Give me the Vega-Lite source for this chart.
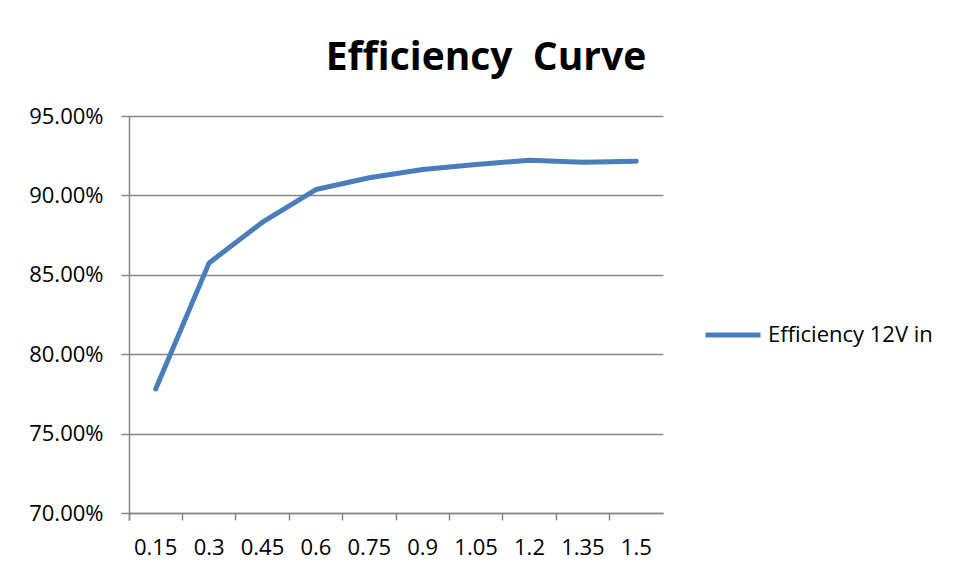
{
  "$schema": "https://vega.github.io/schema/vega-lite/v6.json",
  "width": 534,
  "height": 397,
  "autosize": {"type": "none"},
  "padding": {"left": 129, "top": 116, "right": 294, "bottom": 66},
  "background": "white",
  "title": {
    "text": "Efficiency\u00a0\u00a0Curve",
    "font": "Open Sans",
    "fontSize": 39,
    "fontWeight": "bold",
    "color": "black",
    "anchor": "middle",
    "frame": "group",
    "baseline": "alphabetic",
    "dx": 90,
    "dy": 50,
    "offset": 46
  },
  "data": {
    "values": [
      {"load": "0.15", "eff": 0.7781, "series": "Efficiency 12V in"},
      {"load": "0.3", "eff": 0.8575, "series": "Efficiency 12V in"},
      {"load": "0.45", "eff": 0.8831, "series": "Efficiency 12V in"},
      {"load": "0.6", "eff": 0.9037, "series": "Efficiency 12V in"},
      {"load": "0.75", "eff": 0.9111, "series": "Efficiency 12V in"},
      {"load": "0.9", "eff": 0.9163, "series": "Efficiency 12V in"},
      {"load": "1.05", "eff": 0.9194, "series": "Efficiency 12V in"},
      {"load": "1.2", "eff": 0.9222, "series": "Efficiency 12V in"},
      {"load": "1.35", "eff": 0.9209, "series": "Efficiency 12V in"},
      {"load": "1.5", "eff": 0.9215, "series": "Efficiency 12V in"}
    ]
  },
  "mark": {"type": "line", "strokeWidth": 5, "strokeCap": "round", "strokeJoin": "round"},
  "encoding": {
    "x": {
      "field": "load",
      "type": "ordinal",
      "sort": null,
      "bandPosition": 0.5,
      "scale": {"type": "band", "paddingInner": 0, "paddingOuter": 0},
      "axis": {
        "title": null,
        "labelAngle": 0,
        "bandPosition": 0,
        "tickExtra": true,
        "grid": false,
        "domainColor": "#868686",
        "domainWidth": 1.5,
        "tickColor": "#868686",
        "tickWidth": 1.5,
        "tickSize": 7,
        "labelPadding": 17,
        "labelFont": "Open Sans",
        "labelFontSize": 22,
        "labelColor": "black"
      }
    },
    "y": {
      "field": "eff",
      "type": "quantitative",
      "scale": {"domain": [0.7, 0.95], "nice": false, "zero": false},
      "axis": {
        "title": null,
        "values": [0.7, 0.75, 0.8, 0.85, 0.9, 0.95],
        "format": ".2%",
        "grid": true,
        "gridColor": "#868686",
        "gridWidth": 1.5,
        "domainColor": "#868686",
        "domainWidth": 1.5,
        "tickColor": "#868686",
        "tickWidth": 1.5,
        "tickSize": 8,
        "labelPadding": 18,
        "labelFont": "Open Sans",
        "labelFontSize": 22,
        "labelColor": "black"
      }
    },
    "color": {
      "field": "series",
      "type": "nominal",
      "scale": {"range": ["#4A7EBB"]},
      "legend": {
        "title": null,
        "orient": "none",
        "legendX": 574,
        "legendY": 189,
        "symbolType": "stroke",
        "symbolSize": 3025,
        "symbolStrokeWidth": 5,
        "labelFont": "Open Sans",
        "labelFontSize": 22,
        "labelColor": "black",
        "labelOffset": 5,
        "labelLimit": 400
      }
    }
  },
  "config": {"view": {"stroke": null}}
}
